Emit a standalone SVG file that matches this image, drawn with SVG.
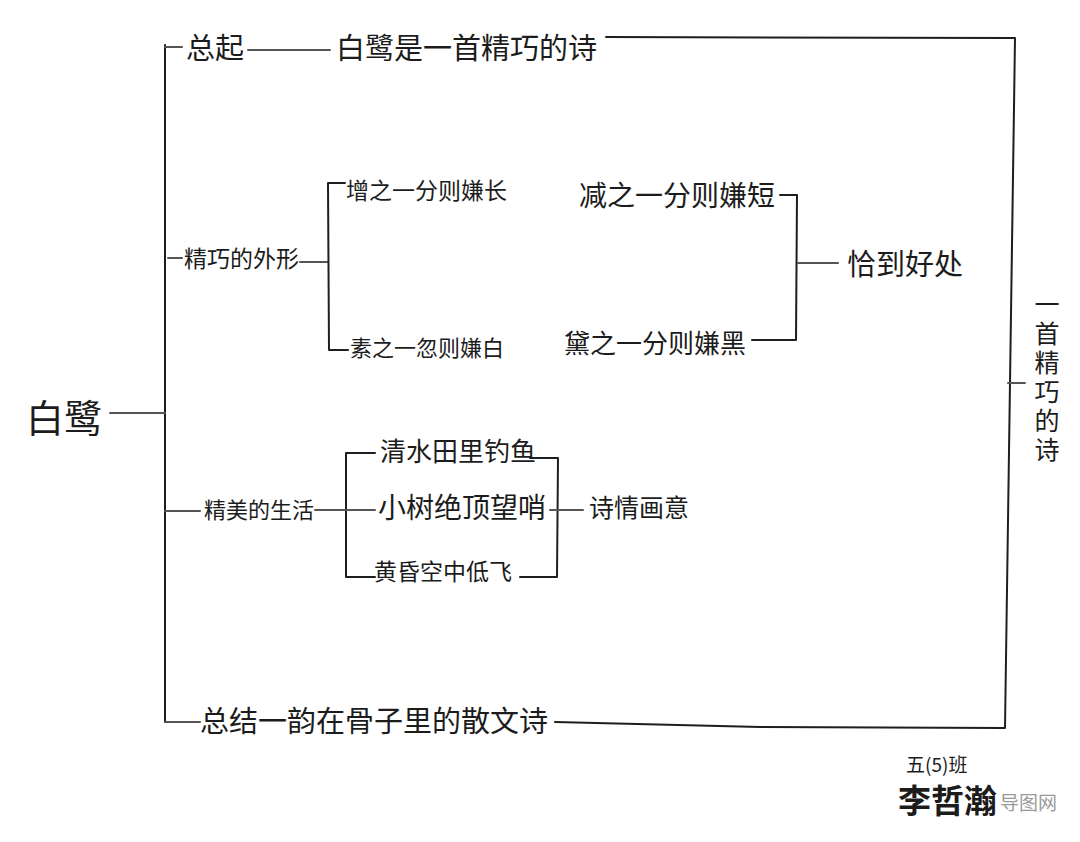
<svg xmlns="http://www.w3.org/2000/svg" width="1080" height="842" viewBox="0 0 1080 842">
<style>
.t{font-family:"Noto Sans CJK SC","Noto Sans",sans-serif;fill:#1c1c1c;}
.ln{stroke:#1e1e1e;stroke-width:2;fill:none;stroke-linecap:round;stroke-linejoin:round;}
.lt{stroke:#555;stroke-width:2;fill:none;stroke-linecap:round;}
</style>
<rect width="1080" height="842" fill="#ffffff"/>
<g id="connectors">
  <path class="ln" d="M165 45 L165 722"/>
  <path class="lt" d="M110 413 L165 413"/>
  <path class="lt" d="M165 47 L182 47"/>
  <path class="lt" d="M248 50 L330 50"/>
  <path class="ln" d="M606 37 L1015 38 L1005 728 L760 727 L555 722"/>
  <path class="lt" d="M165 722 L200 722"/>
  <path class="lt" d="M1008 383 L1025 383"/>
  <path class="lt" d="M168 258 L182 258"/>
  <path class="lt" d="M300 262 L328 262"/>
  <path class="ln" d="M345 183 L328 183 L329 350 L348 350"/>
  <path class="ln" d="M780 195 L797 195 L796 340 L752 340"/>
  <path class="lt" d="M798 263 L838 263"/>
  <path class="lt" d="M165 511 L200 511"/>
  <path class="lt" d="M315 510 L345 510"/>
  <path class="ln" d="M375 453 L346 453 L346 577 L375 577"/>
  <path class="lt" d="M346 510 L375 510"/>
  <path class="ln" d="M530 458 L558 458 L557 577 L520 577"/>
  <path class="lt" d="M550 510 L557 510"/>
  <path class="lt" d="M558 510 L583 510"/>
</g>
<g id="root"><text class="t" x="26" y="432" font-size="38">白鹭</text></g>
<g id="n-zongqi"><text class="t" x="186" y="59" font-size="29">总起</text></g>
<g id="n-bailu-poem"><text class="t" x="336" y="59" font-size="29">白鹭是一首精巧的诗</text></g>
<g id="n-waixing"><text class="t" x="184" y="267" font-size="23">精巧的外形</text></g>
<g id="n-zeng"><text class="t" x="346" y="199" font-size="23">增之一分则嫌长</text></g>
<g id="n-su"><text class="t" x="350" y="356" font-size="22">素之一忽则嫌白</text></g>
<g id="n-jian"><text class="t" x="579" y="206" font-size="28">减之一分则嫌短</text></g>
<g id="n-dai"><text class="t" x="564" y="353" font-size="26">黛之一分则嫌黑</text></g>
<g id="n-qiadao"><text class="t" x="847" y="275" font-size="29">恰到好处</text></g>
<g id="n-shenghuo"><text class="t" x="204" y="518" font-size="22">精美的生活</text></g>
<g id="n-diaoyu"><text class="t" x="380" y="461" font-size="26">清水田里钓鱼</text></g>
<g id="n-wangshao"><text class="t" x="378" y="518" font-size="28">小树绝顶望哨</text></g>
<g id="n-difei"><text class="t" x="374" y="580" font-size="23">黄昏空中低飞</text></g>
<g id="n-shiqing"><text class="t" x="589" y="517" font-size="25">诗情画意</text></g>
<g id="n-zongjie"><text class="t" x="200" y="732" font-size="29">总结一韵在骨子里的散文诗</text></g>
<g id="n-vertical">
  <text class="t" x="1047" y="292" font-size="25" writing-mode="vertical-rl" letter-spacing="4">一首精巧的诗</text>
</g>
<g id="signature">
  <text class="t" x="906" y="772" font-size="19">五(5)班</text>
  <text x="1000" y="810" font-size="19" font-family="Noto Sans CJK SC,sans-serif" fill="#9a9a9a">导图网</text>
  <text class="t" x="898" y="813" font-size="33" font-weight="bold">李哲瀚</text>
</g>
</svg>
